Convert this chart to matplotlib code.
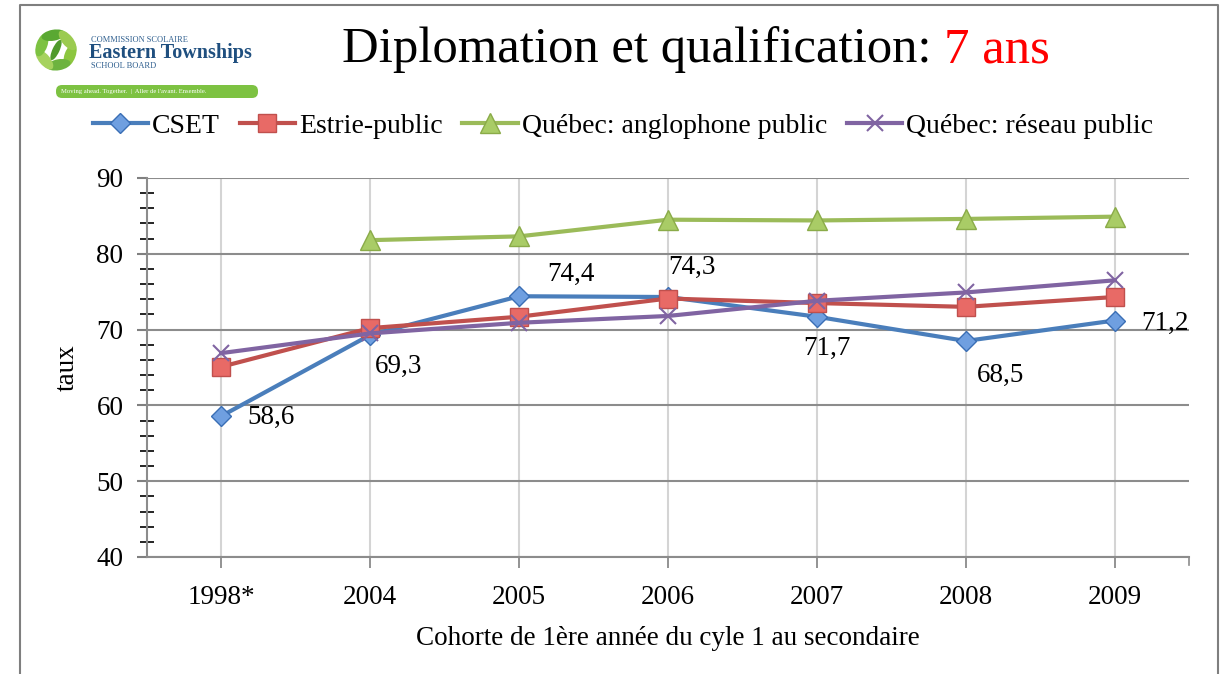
import math
import matplotlib
matplotlib.use("Agg")
import matplotlib.pyplot as plt
from matplotlib.patches import FancyBboxPatch, Ellipse

plt.rcParams['font.family'] = ['Liberation Serif', 'DejaVu Serif']

# data
cohortes = ['1998*', '2004', '2005', '2006', '2007', '2008', '2009']
cset = [58.6, 69.3, 74.4, 74.3, 71.7, 68.5, 71.2]
estrie = [65.1, 70.2, 71.7, 74.1, 73.5, 73.0, 74.3]
anglo = [None, 81.8, 82.3, 84.5, 84.4, 84.6, 84.9]
reseau = [66.9, 69.5, 70.9, 71.8, 73.8, 74.9, 76.5]
cset_lbl = ['58,6', '69,3', '74,4', '74,3', '71,7', '68,5', '71,2']

W, H = 1231, 674
fig = plt.figure(figsize=(W / 100, H / 100), dpi=100)

# frame around the slide
fr = fig.add_axes([0, 0, 1, 1])
fr.set_xlim(0, W)
fr.set_ylim(H, 0)
fr.axis('off')
fr.plot([20, 20, 1218, 1218], [H + 5, 5, 5, H + 5], color='#7f7f7f', lw=1.5)

# logo
lg = fig.add_axes([25 / W, 1 - 104 / H, 245 / W, 84 / H])
lg.set_xlim(25, 270)
lg.set_ylim(104, 20)
lg.axis('off')
cx, cy = 56, 50
for ang, col in [(20, '#8cc63f'), (80, '#6db33f'), (140, '#a6d25e'),
                 (200, '#7dc242'), (260, '#5aa832'), (320, '#9bcb50')]:
    ex = cx + 15 * math.cos(math.radians(ang))
    ey = cy + 15 * math.sin(math.radians(ang))
    lg.add_patch(Ellipse((ex, ey), 11, 24, angle=ang, fc=col, ec='none'))
lg.add_patch(Ellipse((cx, cy), 7, 22, angle=25, fc='#4f9a2c', ec='none'))
lg.text(91, 40, 'COMMISSION SCOLAIRE', fontsize=6, color='#2f5f8f', va='center')
lg.text(89, 53, 'Eastern Townships', fontsize=14.5, weight='bold', color='#1f4f7f', va='center')
lg.text(91, 66, 'SCHOOL BOARD', fontsize=6, color='#2f5f8f', va='center')
lg.add_patch(FancyBboxPatch((56, 85), 202, 13, boxstyle='round,pad=0,rounding_size=6',
                            fc='#7dc242', ec='none'))
lg.text(61, 91.5, "Moving ahead. Together.  |  Aller de l'avant. Ensemble.",
        fontsize=4.8, color='white', va='center')

# title
fig.text(944 / W, 1 - 50 / H, 'Diplomation et qualification: ', fontsize=36.5,
         ha='right', va='center')
fig.text(944 / W, 1 - 50 / H, '7 ans', fontsize=36.5, color='red', ha='left', va='center')

ax = fig.add_axes([147 / W, 1 - 557 / H, 1042 / W, 379 / H])
x = list(range(len(cohortes)))

ax.plot(x, cset, color='#4a7ebb', lw=3, marker='D', ms=10,
        mfc='#6f9fe0', mec='#3a6eb5', label='CSET', zorder=3)
ax.plot(x, estrie, color='#c0504d', lw=3, marker='s', ms=13,
        mfc='#e86a66', mec='#c0504d', label='Estrie-public', zorder=4)
xa = [i for i, v in zip(x, anglo) if v is not None]
ya = [v for v in anglo if v is not None]
ax.plot(xa, ya, color='#9bbb59', lw=3, marker='^', ms=14,
        mfc='#a9cc66', mec='#8aab48', label='Québec: anglophone public', zorder=5)
ax.plot(x, reseau, color='#8064a2', lw=3, marker='x', ms=12, mew=1.5,
        label='Québec: réseau public', zorder=6)

offs = [(19, -1, 'left'), (3, -23, 'left'), (20, 16, 'left'), (0, 21, 'left'),
        (7, -23, 'center'), (8, -25, 'left'), (19, -2, 'left')]
for i, v in enumerate(cset):
    dx, dy, ha = offs[i]
    ax.annotate(cset_lbl[i], (i, v), xytext=(dx, dy), textcoords='offset points',
                ha=ha, va='center', fontsize=19.5)

ax.set_xlim(-0.5, 6.5)
ax.set_ylim(40, 90)
ax.set_yticks(range(40, 91, 10))
ax.set_yticks(range(40, 91, 2), minor=True)
ax.set_xticks(x)
ax.set_xticklabels(cohortes)
ax.tick_params(axis='both', labelsize=19.5, colors='#808080', labelcolor='black')
ax.tick_params(axis='y', which='major', direction='out', length=7, width=1.5, pad=10)
ax.tick_params(axis='y', which='minor', direction='inout', length=10, width=1.2)
ax.tick_params(axis='x', which='major', direction='out', length=8, width=1.2, pad=12)
ax.grid(axis='y', which='major', color='#8c8c8c', lw=1.5)
ax.grid(axis='x', which='major', color='#d4d4d4', lw=1.5)
ax.set_axisbelow(True)
for s in ['top', 'right']:
    ax.spines[s].set_visible(False)
for s in ['left', 'bottom']:
    ax.spines[s].set_color('#8c8c8c')
    ax.spines[s].set_linewidth(1.5)
ax.plot([1, 1], [0, -0.022], transform=ax.transAxes, color='#8c8c8c', lw=1.2, clip_on=False)

ax.set_ylabel('taux', fontsize=19.5, labelpad=12)
ax.set_xlabel('Cohorte de 1ère année du cyle 1 au secondaire', fontsize=19.5, labelpad=12)

fig.legend(loc='center', bbox_to_anchor=(623 / W, 1 - 126 / H), ncol=4, frameon=False,
           fontsize=20, handlelength=2.0, handletextpad=0.15, columnspacing=0.7,
           borderaxespad=0)

fig.savefig('out.png', dpi=100)
